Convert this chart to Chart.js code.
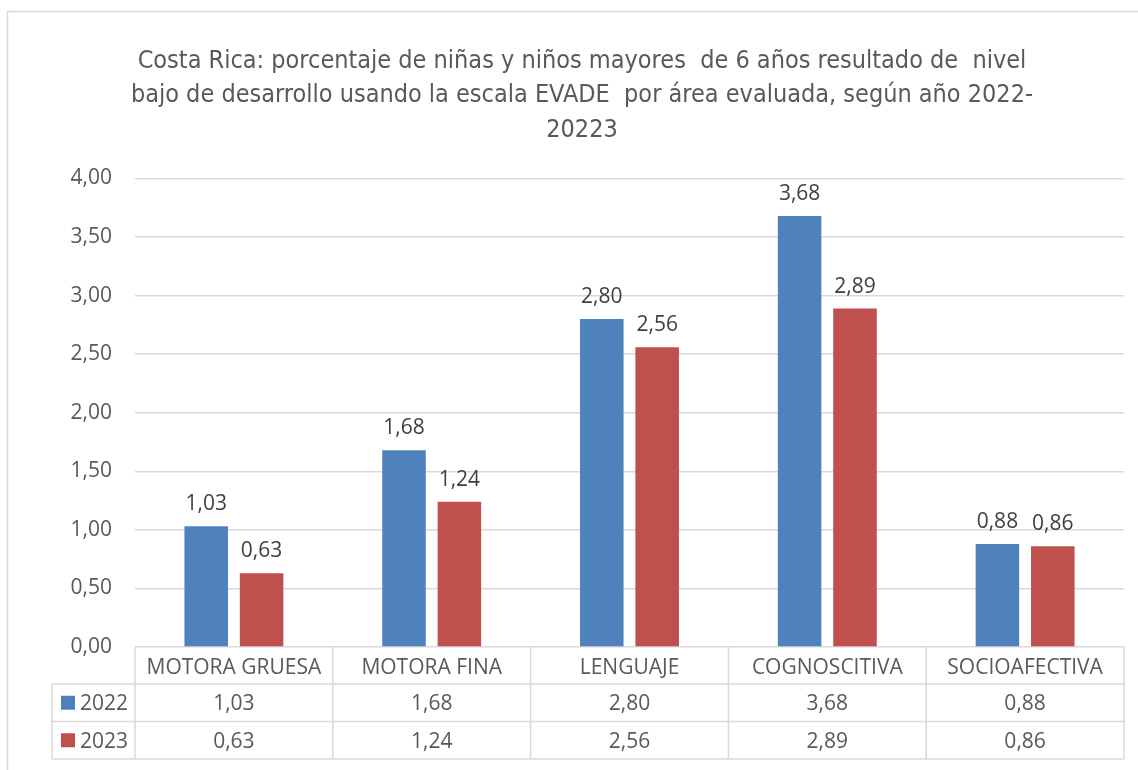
<!DOCTYPE html>
<html>
<head>
<meta charset="utf-8">
<script src="https://cdn.jsdelivr.net/npm/chart.js@4.4.1/dist/chart.umd.min.js"></script>
<style>
html,body{margin:0;padding:0;background:#fff;}
#wrap{position:relative;width:1138px;height:770px;}
</style>
</head>
<body>
<div id="wrap"><canvas id="c" width="1138" height="770"></canvas></div>
<script>
const titleLines = [
  "Costa Rica: porcentaje de niñas y niños mayores  de 6 años resultado de  nivel",
  "bajo de desarrollo usando la escala EVADE  por área evaluada, según año 2022-",
  "20223"
];
const categories = ["MOTORA GRUESA", "MOTORA FINA", "LENGUAJE", "COGNOSCITIVA", "SOCIOAFECTIVA"];
const seriesNames = ["2022", "2023"];
const values2022 = [1.03, 1.68, 2.80, 3.68, 0.88];
const values2023 = [0.63, 1.24, 2.56, 2.89, 0.86];
const seriesColors = ["#4F81BD", "#C0504D"];
const yMin = 0, yMax = 4, yStep = 0.5;

const TXT = "#595959";
const FONT = "'Open Sans', 'Noto Sans', sans-serif";
const fmt = v => v.toFixed(2).replace('.', ',');

const frame = {
  id: 'frame',
  beforeDraw(chart) {
    const ctx = chart.ctx;
    ctx.save();
    ctx.strokeStyle = '#d9d9d9';
    ctx.lineWidth = 1.5;
    ctx.strokeRect(7.5, 11.5, 1140, 770);
    ctx.restore();
  }
};

const valueLabels = {
  id: 'valueLabels',
  afterDatasetsDraw(chart) {
    const ctx = chart.ctx;
    ctx.save();
    ctx.font = "21px " + FONT;
    ctx.fillStyle = "#404040";
    ctx.textAlign = 'center';
    ctx.textBaseline = 'alphabetic';
    chart.data.datasets.forEach((ds, i) => {
      const meta = chart.getDatasetMeta(i);
      meta.data.forEach((bar, j) => {
        ctx.fillText(fmt(ds.data[j]), bar.x, bar.y - 16);
      });
    });
    ctx.restore();
  }
};

const dataTable = {
  id: 'dataTable',
  afterDraw(chart) {
    const ctx = chart.ctx;
    const ca = chart.chartArea;
    const xs = chart.scales.x;
    const headTop = ca.bottom;
    const headH = 37;
    const rowH = 37.5;
    const leftX = 52;
    const n = categories.length;
    const colW = (ca.right - ca.left) / n;
    ctx.save();
    ctx.strokeStyle = '#d9d9d9';
    ctx.lineWidth = 1.5;
    ctx.beginPath();
    for (let k = 0; k <= n; k++) {
      const x = ca.left + k * colW;
      ctx.moveTo(x, headTop);
      ctx.lineTo(x, headTop + headH + rowH * 2);
    }
    ctx.moveTo(leftX, headTop + headH);
    ctx.lineTo(leftX, headTop + headH + rowH * 2);
    for (let r = 0; r <= 2; r++) {
      const y = headTop + headH + r * rowH;
      ctx.moveTo(leftX, y);
      ctx.lineTo(ca.right, y);
    }
    ctx.stroke();

    ctx.font = "21px " + FONT;
    ctx.textBaseline = 'alphabetic';
    chart.data.datasets.forEach((ds, i) => {
      const rowTop = headTop + headH + i * rowH;
      const base = rowTop + rowH / 2 + 0.357 * 21;
      ctx.fillStyle = ds.backgroundColor;
      ctx.fillRect(61, rowTop + rowH / 2 - 7, 14, 14);
      ctx.fillStyle = TXT;
      ctx.textAlign = 'left';
      ctx.fillText(ds.label, 80, base);
      ctx.textAlign = 'center';
      ds.data.forEach((v, j) => {
        ctx.fillText(fmt(v), xs.getPixelForValue(j), base);
      });
    });
    ctx.restore();
  }
};

new Chart(document.getElementById('c'), {
  type: 'bar',
  data: {
    labels: categories,
    datasets: [
      { label: seriesNames[0], data: values2022, backgroundColor: seriesColors[0] },
      { label: seriesNames[1], data: values2023, backgroundColor: seriesColors[1] }
    ]
  },
  options: {
    responsive: false,
    animation: false,
    devicePixelRatio: 1,
    categoryPercentage: 0.56,
    barPercentage: 0.786,
    layout: { padding: { left: 40, right: 14, top: 44, bottom: 86 } },
    plugins: {
      legend: { display: false },
      tooltip: { enabled: false },
      title: {
        display: true,
        text: titleLines,
        color: TXT,
        font: { family: "'Liberation Sans Narrow', 'DejaVu Sans Condensed', sans-serif", size: 25, weight: 'normal', lineHeight: 1.38 },
        padding: { top: 0, bottom: 31 }
      }
    },
    scales: {
      x: {
        grid: { display: false, drawTicks: false },
        border: { display: false },
        ticks: { color: TXT, font: { family: FONT, size: 21 }, padding: 8, maxRotation: 0, autoSkip: false },
        afterFit(s) { s.height = 37; }
      },
      y: {
        min: yMin, max: yMax,
        grid: { color: '#d9d9d9', lineWidth: 1.5, drawTicks: false },
        border: { display: false },
        ticks: { stepSize: yStep, color: TXT, font: { family: FONT, size: 21 }, padding: 23, callback: v => fmt(v) },
        afterFit(s) { s.width = 95; }
      }
    }
  },
  plugins: [frame, valueLabels, dataTable]
});
</script>
</body>
</html>
